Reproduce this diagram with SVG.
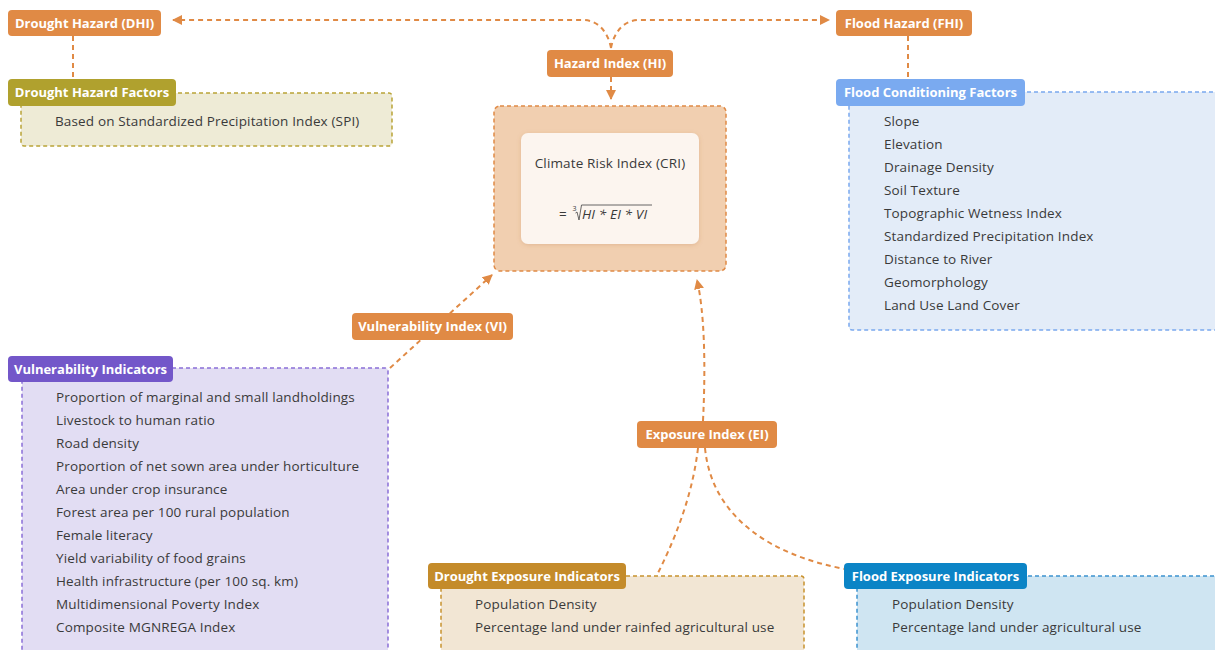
<svg xmlns="http://www.w3.org/2000/svg" width="1215" height="650" viewBox="0 0 1215 650">
<defs>
<style>
.lbl{font-family:"Open Sans","Liberation Sans",sans-serif;font-size:13px;font-weight:700;fill:#ffffff}
.itm{font-family:"Open Sans","Liberation Sans",sans-serif;font-size:13.5px;letter-spacing:0.15px;fill:#3a3a3a}
.conn{fill:none;stroke:#e08a45;stroke-width:2;stroke-dasharray:5 4}
.box{stroke-width:1.5;stroke-dasharray:4 3}
</style>
<marker id="ah" viewBox="0 0 10 10" refX="9" refY="5" markerWidth="10" markerHeight="10" markerUnits="userSpaceOnUse" orient="auto">
<path d="M0,0 L10,5 L0,10 z" fill="#e08a45"/>
</marker>
<filter id="sh" x="-10%" y="-10%" width="120%" height="130%">
<feDropShadow dx="0" dy="1" stdDeviation="2" flood-color="#b07040" flood-opacity="0.25"/>
</filter>
</defs>
<rect width="1215" height="650" fill="#ffffff"/>
<g id="connectors">
<path class="conn" d="M611,48 C608,32 598,20 583,20 L173,20" marker-end="url(#ah)"/>
<path class="conn" d="M611,48 C614,32 624,20 639,20 L829,20" marker-end="url(#ah)"/>
<path class="conn" d="M611,77 L611,99" marker-end="url(#ah)"/>
<path class="conn" d="M73,36 L73,79"/>
<path class="conn" d="M908,36 L908,79"/>
<path class="conn" d="M390,368 L492,275" marker-end="url(#ah)"/>
<path class="conn" d="M703,421 C706,360 704,310 697,280" marker-end="url(#ah)"/>
<path class="conn" d="M698,448 C692,500 672,545 657,575"/>
<path class="conn" d="M705,448 C712,520 775,556 845,569"/>
</g>
<g id="cri">
<rect x="494" y="106" width="232" height="165" rx="6" fill="#f1cfb0" stroke="#e08a45" class="box"/>
<rect x="521" y="133" width="178" height="111" rx="7" fill="#fcf5ef" filter="url(#sh)"/>
<text class="itm" x="610" y="168" text-anchor="middle">Climate Risk Index (CRI)</text>
<text class="itm" x="559" y="219">=</text>
<text class="itm" x="572.5" y="211" style="font-size:7px">3</text>
<path d="M575.5,213 L577,212 L579,220 L581.5,205 L652,205" fill="none" stroke="#555" stroke-width="0.9"/>
<text class="itm" x="582" y="219" font-style="italic">HI * EI * VI</text>
</g>
<g id="hazard-index">
<rect x="547" y="50" width="126" height="27" rx="4" fill="#e08a45"/>
<text class="lbl" x="610" y="68" text-anchor="middle">Hazard Index (HI)</text>
</g>
<g id="drought-hazard">
<rect x="8" y="10" width="153" height="26" rx="4" fill="#e08a45"/>
<text class="lbl" x="84.5" y="27.5" text-anchor="middle">Drought Hazard (DHI)</text>
</g>
<g id="flood-hazard">
<rect x="836" y="10" width="136" height="26" rx="4" fill="#e08a45"/>
<text class="lbl" x="904" y="27.5" text-anchor="middle">Flood Hazard (FHI)</text>
</g>
<g id="drought-hazard-factors">
<rect x="21" y="93" width="371" height="53" rx="3" fill="#eeebd6" stroke="#b9a437" class="box"/>
<rect x="8" y="79" width="168" height="27" rx="4" fill="#b0a12e"/>
<text class="lbl" x="92" y="97" text-anchor="middle">Drought Hazard Factors</text>
<text class="itm" x="55" y="126">Based on Standardized Precipitation Index (SPI)</text>
</g>
<g id="flood-conditioning-factors">
<rect x="849" y="92" width="380" height="238" rx="3" fill="#e3ecf8" stroke="#79a8ee" class="box"/>
<rect x="836" y="79" width="189" height="27" rx="4" fill="#7aaaf0"/>
<text class="lbl" x="930.5" y="97" text-anchor="middle">Flood Conditioning Factors</text>
<text class="itm" x="884" y="126">Slope</text>
<text class="itm" x="884" y="149">Elevation</text>
<text class="itm" x="884" y="172">Drainage Density</text>
<text class="itm" x="884" y="195">Soil Texture</text>
<text class="itm" x="884" y="218">Topographic Wetness Index</text>
<text class="itm" x="884" y="241">Standardized Precipitation Index</text>
<text class="itm" x="884" y="264">Distance to River</text>
<text class="itm" x="884" y="287">Geomorphology</text>
<text class="itm" x="884" y="310">Land Use Land Cover</text>
</g>
<g id="vulnerability-index">
<rect x="352" y="313" width="161" height="27" rx="4" fill="#e08a45"/>
<text class="lbl" x="432.5" y="331" text-anchor="middle">Vulnerability Index (VI)</text>
</g>
<g id="vulnerability-indicators">
<rect x="22" y="368" width="366" height="300" rx="3" fill="#e2ddf3" stroke="#8a6fd8" class="box"/>
<rect x="8" y="356" width="165" height="26" rx="4" fill="#7357c9"/>
<text class="lbl" x="90.5" y="373.5" text-anchor="middle">Vulnerability Indicators</text>
<text class="itm" x="56" y="402">Proportion of marginal and small landholdings</text>
<text class="itm" x="56" y="425">Livestock to human ratio</text>
<text class="itm" x="56" y="448">Road density</text>
<text class="itm" x="56" y="471">Proportion of net sown area under horticulture</text>
<text class="itm" x="56" y="494">Area under crop insurance</text>
<text class="itm" x="56" y="517">Forest area per 100 rural population</text>
<text class="itm" x="56" y="540">Female literacy</text>
<text class="itm" x="56" y="563">Yield variability of food grains</text>
<text class="itm" x="56" y="586">Health infrastructure (per 100 sq. km)</text>
<text class="itm" x="56" y="609">Multidimensional Poverty Index</text>
<text class="itm" x="56" y="632">Composite MGNREGA Index</text>
</g>
<g id="exposure-index">
<rect x="637" y="421" width="140" height="27" rx="4" fill="#e08a45"/>
<text class="lbl" x="707" y="439" text-anchor="middle">Exposure Index (EI)</text>
</g>
<g id="drought-exposure-indicators">
<rect x="441" y="576" width="363" height="100" rx="3" fill="#f2e6d4" stroke="#c8922e" class="box"/>
<rect x="428" y="563" width="198" height="26" rx="4" fill="#c48b2a"/>
<text class="lbl" x="527" y="580.5" text-anchor="middle">Drought Exposure Indicators</text>
<text class="itm" x="475" y="609">Population Density</text>
<text class="itm" x="475" y="632">Percentage land under rainfed agricultural use</text>
</g>
<g id="flood-exposure-indicators">
<rect x="857" y="576" width="370" height="100" rx="3" fill="#cfe5f2" stroke="#3d93cf" class="box"/>
<rect x="844" y="563" width="183" height="26" rx="4" fill="#0b84c6"/>
<text class="lbl" x="935.5" y="580.5" text-anchor="middle">Flood Exposure Indicators</text>
<text class="itm" x="892" y="609">Population Density</text>
<text class="itm" x="892" y="632">Percentage land under agricultural use</text>
</g>
</svg>
